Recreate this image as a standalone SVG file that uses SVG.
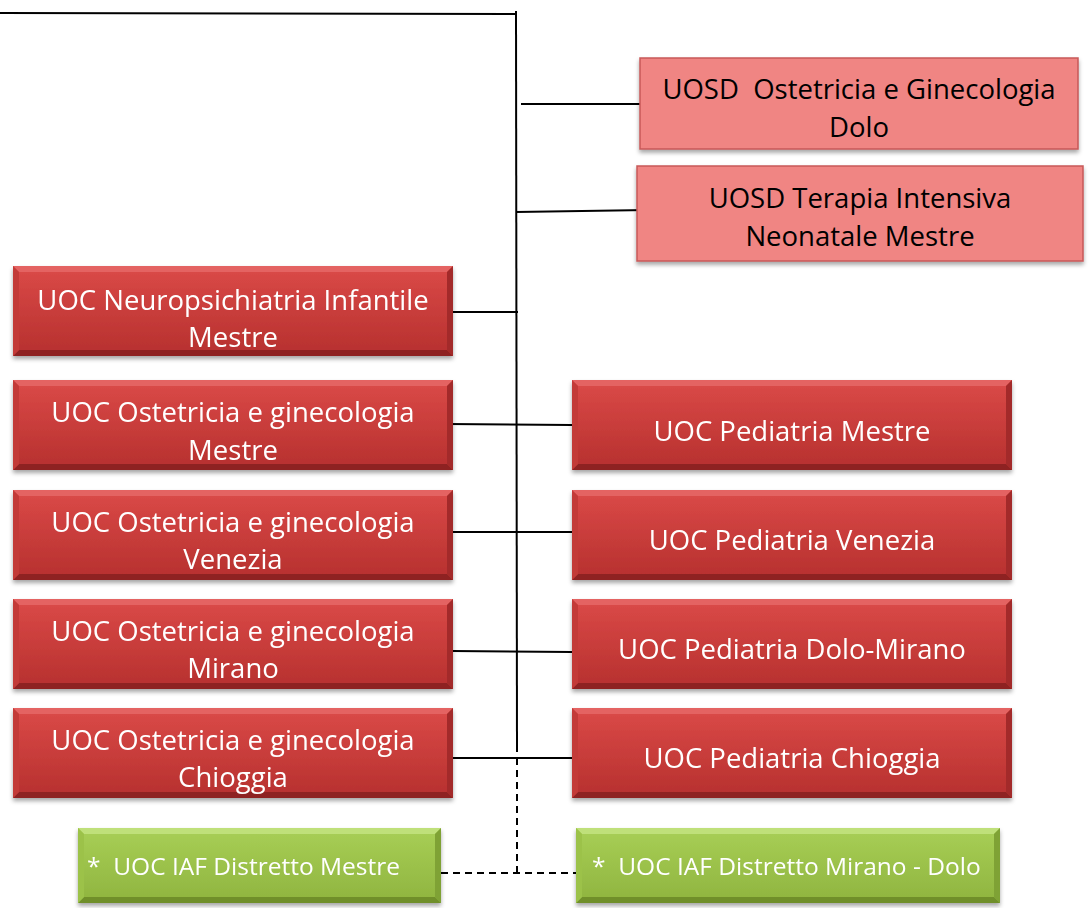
<svg xmlns="http://www.w3.org/2000/svg" width="1091" height="908" viewBox="0 0 1091 908">
<style>
.t{font-family:"Open Sans","Noto Sans","Liberation Sans",sans-serif;font-size:27.5px;text-anchor:middle}
.w{fill:#ffffff}
.k{fill:#000000}
.g{font-family:"Open Sans","Noto Sans","Liberation Sans",sans-serif;font-size:24.5px;fill:#ffffff;white-space:pre}
.ln{stroke:#000;stroke-width:2;fill:none}
.dl{stroke:#000;stroke-width:2;fill:none;stroke-dasharray:7 5}
</style>
<defs>
<linearGradient id="gRed" x1="0" y1="0" x2="0" y2="1"><stop offset="0" stop-color="#db4a48"/><stop offset="1" stop-color="#b6302e"/></linearGradient>
<linearGradient id="gGreen" x1="0" y1="0" x2="0" y2="1"><stop offset="0" stop-color="#a8cf56"/><stop offset="1" stop-color="#8fb43f"/></linearGradient>
<filter id="sh" x="-5%" y="-10%" width="110%" height="130%"><feDropShadow dx="0" dy="3" stdDeviation="2" flood-color="#000" flood-opacity="0.35"/></filter>
<g id="redBox">
<rect x="0" y="0" width="440" height="90" fill="url(#gRed)"/>
<polygon points="0,0 440,0 434,6 6,6" fill="#e46462"/>
<polygon points="0,90 440,90 434,84 6,84" fill="#8e2423"/>
<polygon points="0,0 6,6 6,84 0,90" fill="#c33a38"/>
<polygon points="440,0 434,6 434,84 440,90" fill="#a32b29"/>
</g>
</defs>

<g id="connectors">
<line class="ln" x1="0" y1="13" x2="517" y2="14"/>
<line class="ln" x1="516" y1="11" x2="517" y2="752"/>
<line class="ln" x1="521" y1="104" x2="640" y2="104"/>
<line class="ln" x1="516" y1="212" x2="648" y2="210"/>
<line class="ln" x1="452" y1="312" x2="518" y2="312"/>
<line class="ln" x1="447" y1="424" x2="572" y2="425"/>
<line class="ln" x1="452" y1="532" x2="572" y2="532"/>
<line class="ln" x1="452" y1="651" x2="572" y2="652"/>
<line class="ln" x1="447" y1="758" x2="572" y2="758"/>
<line class="dl" x1="517" y1="758" x2="517" y2="873"/>
<line class="dl" x1="441" y1="873" x2="576" y2="873"/>
</g>

<g id="uosd-ost-dolo">
<rect x="640" y="58" width="438" height="91" fill="#f08583" stroke="#c75a58" stroke-width="1.5" filter="url(#sh)"/>
<text class="t k" x="859" y="99" xml:space="preserve">UOSD  Ostetricia e Ginecologia</text>
<text class="t k" x="859" y="137">Dolo</text>
</g>

<g id="uosd-tin-mestre">
<rect x="637" y="166" width="446" height="95" fill="#f08583" stroke="#c75a58" stroke-width="1.5" filter="url(#sh)"/>
<text class="t k" x="860" y="208">UOSD Terapia Intensiva</text>
<text class="t k" x="860" y="246">Neonatale Mestre</text>
</g>

<g id="uoc-npi-mestre" filter="url(#sh)">
<use href="#redBox" transform="translate(13,266)"/>
<text class="t w" x="233" y="310">UOC Neuropsichiatria Infantile</text>
<text class="t w" x="233" y="347">Mestre</text>
</g>

<g id="uoc-ost-mestre" filter="url(#sh)">
<use href="#redBox" transform="translate(13,380)"/>
<text class="t w" x="233" y="422">UOC Ostetricia e ginecologia</text>
<text class="t w" x="233" y="460">Mestre</text>
</g>

<g id="uoc-ost-venezia" filter="url(#sh)">
<use href="#redBox" transform="translate(13,490)"/>
<text class="t w" x="233" y="532">UOC Ostetricia e ginecologia</text>
<text class="t w" x="233" y="569">Venezia</text>
</g>

<g id="uoc-ost-mirano" filter="url(#sh)">
<use href="#redBox" transform="translate(13,599)"/>
<text class="t w" x="233" y="641">UOC Ostetricia e ginecologia</text>
<text class="t w" x="233" y="678">Mirano</text>
</g>

<g id="uoc-ost-chioggia" filter="url(#sh)">
<use href="#redBox" transform="translate(13,708)"/>
<text class="t w" x="233" y="750">UOC Ostetricia e ginecologia</text>
<text class="t w" x="233" y="787">Chioggia</text>
</g>

<g id="uoc-ped-mestre" filter="url(#sh)">
<use href="#redBox" transform="translate(572,380)"/>
<text class="t w" x="792" y="441">UOC Pediatria Mestre</text>
</g>

<g id="uoc-ped-venezia" filter="url(#sh)">
<use href="#redBox" transform="translate(572,490)"/>
<text class="t w" x="792" y="550">UOC Pediatria Venezia</text>
</g>

<g id="uoc-ped-dolo-mirano" filter="url(#sh)">
<use href="#redBox" transform="translate(572,599)"/>
<text class="t w" x="792" y="659">UOC Pediatria Dolo-Mirano</text>
</g>

<g id="uoc-ped-chioggia" filter="url(#sh)">
<use href="#redBox" transform="translate(572,708)"/>
<text class="t w" x="792" y="768">UOC Pediatria Chioggia</text>
</g>

<g id="uoc-iaf-mestre" filter="url(#sh)">
<rect x="78" y="828" width="363" height="75" fill="url(#gGreen)"/>
<polygon points="78,828 441,828 435,834 84,834" fill="#bfe07a"/>
<polygon points="78,903 441,903 435,897 84,897" fill="#6f8f2c"/>
<polygon points="78,828 84,834 84,897 78,903" fill="#9cc24a"/>
<polygon points="441,828 435,834 435,897 441,903" fill="#7fa236"/>
<text class="g" x="87" y="875">*  UOC IAF Distretto Mestre</text>
</g>

<g id="uoc-iaf-mirano-dolo" filter="url(#sh)">
<rect x="576" y="828" width="424" height="75" fill="url(#gGreen)"/>
<polygon points="576,828 1000,828 994,834 582,834" fill="#bfe07a"/>
<polygon points="576,903 1000,903 994,897 582,897" fill="#6f8f2c"/>
<polygon points="576,828 582,834 582,897 576,903" fill="#9cc24a"/>
<polygon points="1000,828 994,834 994,897 1000,903" fill="#7fa236"/>
<text class="g" x="592" y="875">*  UOC IAF Distretto Mirano - Dolo</text>
</g>
</svg>
